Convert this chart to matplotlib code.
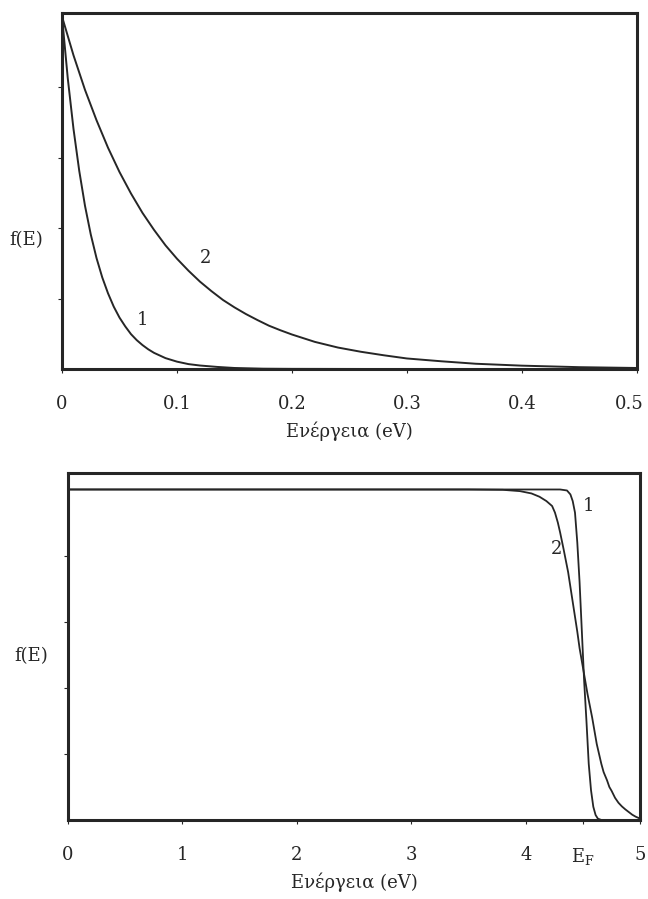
import matplotlib
matplotlib.use("Agg")
import matplotlib.pyplot as plt
from matplotlib.transforms import ScaledTranslation

# Top panel: Maxwell-Boltzmann-like f(E), energy in eV
e_top_1 = [0.0, 0.005, 0.01, 0.015, 0.02, 0.025, 0.03, 0.035, 0.04, 0.045, 0.05,
           0.055, 0.06, 0.065, 0.07, 0.075, 0.08, 0.09, 0.10, 0.11, 0.12, 0.135,
           0.15, 0.175, 0.20, 0.30, 0.40, 0.50]
f_top_1 = [1.0, 0.825, 0.681, 0.562, 0.463, 0.382, 0.315, 0.260, 0.215, 0.177, 0.146,
           0.121, 0.099, 0.082, 0.068, 0.056, 0.046, 0.031, 0.021, 0.014, 0.010, 0.006,
           0.003, 0.001, 0.0005, 0.0, 0.0, 0.0]

e_top_2 = [0.0, 0.01, 0.02, 0.03, 0.04, 0.05, 0.06, 0.07, 0.08, 0.09, 0.10, 0.11,
           0.12, 0.13, 0.14, 0.15, 0.16, 0.17, 0.18, 0.19, 0.20, 0.22, 0.24, 0.26,
           0.28, 0.30, 0.33, 0.36, 0.40, 0.45, 0.50]
f_top_2 = [1.0, 0.890, 0.792, 0.706, 0.628, 0.559, 0.498, 0.443, 0.395, 0.351, 0.313, 0.279,
           0.248, 0.221, 0.196, 0.175, 0.156, 0.139, 0.123, 0.110, 0.098, 0.077, 0.061, 0.049,
           0.039, 0.030, 0.022, 0.015, 0.0096, 0.0053, 0.003]

# Bottom panel: Fermi-Dirac-like f(E) around E_F
e_bot_1 = [0.0, 4.30, 4.36, 4.39, 4.41, 4.43, 4.45, 4.47, 4.49, 4.51, 4.53,
           4.55, 4.57, 4.59, 4.61, 4.63, 4.66, 5.0]
f_bot_1 = [1.0, 1.0, 0.997, 0.985, 0.965, 0.93, 0.84, 0.72, 0.57, 0.42, 0.30,
           0.17, 0.09, 0.04, 0.015, 0.004, 0.0, 0.0]

e_bot_2 = [0.0, 3.5, 3.8, 3.95, 4.05, 4.12, 4.18, 4.23, 4.255, 4.28, 4.30, 4.33, 4.35,
           4.37, 4.39, 4.41, 4.43, 4.45, 4.47, 4.50, 4.52, 4.54, 4.56, 4.58, 4.60,
           4.62, 4.64, 4.66, 4.68, 4.71, 4.73, 4.75, 4.78, 4.81, 4.84, 4.87, 4.90,
           4.93, 4.96, 5.0]
f_bot_2 = [1.0, 1.0, 0.999, 0.995, 0.988, 0.978, 0.965, 0.95, 0.93, 0.90, 0.87, 0.82, 0.785,
           0.75, 0.705, 0.66, 0.615, 0.57, 0.52, 0.46, 0.42, 0.38, 0.345, 0.31, 0.27,
           0.23, 0.20, 0.17, 0.145, 0.12, 0.10, 0.088, 0.067, 0.052, 0.041, 0.032, 0.024,
           0.016, 0.010, 0.004]

top_ticks = [0, 0.1, 0.2, 0.3, 0.4, 0.5]
top_ticklabels = ["0", "0.1", "0.2", "0.3", "0.4", "0.5"]
bot_ticks = [0, 1, 2, 3, 4, 4.5, 5]
bot_ticklabels = ["0", "1", "2", "3", "4", r"E$_{\mathrm{F}}$", "5"]
y_ticks = [0.2, 0.4, 0.6, 0.8]

xlabel = "Ενέργεια (eV)"
ylabel = "f(E)"

plt.rcParams["font.family"] = ["DejaVu Serif"]
plt.rcParams["mathtext.fontset"] = "dejavuserif"
ink = "#262626"

fig = plt.figure(figsize=(6.48, 8.99), dpi=100)
ax1 = fig.add_axes([0.0957, 0.5895, 0.887, 0.396])
ax2 = fig.add_axes([0.105, 0.0879, 0.883, 0.386])


def style(ax):
    for s in ax.spines.values():
        s.set_linewidth(2.2)
        s.set_color(ink)
    ax.set_yticks(y_ticks)
    ax.set_yticklabels([])
    ax.tick_params(direction="out", length=3, width=0.8, colors=ink,
                   labelsize=13, pad=16)


# top panel
ax1.plot(e_top_1, f_top_1, color=ink, lw=1.4)
ax1.plot(e_top_2, f_top_2, color=ink, lw=1.4)
ax1.set_xlim(0, 0.5)
ax1.set_ylim(0, 1.01)
style(ax1)
ax1.set_xticks(top_ticks)
ax1.set_xticklabels(top_ticklabels)
ax1.set_xlabel(xlabel, fontsize=13, labelpad=6, color=ink)
ax1.text(0.07, 0.139, "1", fontsize=13, color=ink, ha="center", va="center")
ax1.text(0.1246, 0.314, "2", fontsize=13, color=ink, ha="center", va="center")
# keep the last tick label inside the canvas
last = ax1.get_xticklabels()[-1]
last.set_transform(last.get_transform() + ScaledTranslation(-8 / 100, 0, fig.dpi_scale_trans))

# bottom panel
ax2.plot(e_bot_1, f_bot_1, color=ink, lw=1.3)
ax2.plot(e_bot_2, f_bot_2, color=ink, lw=1.3)
ax2.set_xlim(0, 5)
ax2.set_ylim(0, 1.05)
style(ax2)
ax2.set_xticks(bot_ticks)
ax2.set_xticklabels(bot_ticklabels)
ax2.set_xlabel(xlabel, fontsize=13, labelpad=4, color=ink)
ax2.text(4.55, 0.95, "1", fontsize=13, color=ink, ha="center", va="center")
ax2.text(4.27, 0.82, "2", fontsize=13, color=ink, ha="center", va="center")

fig.text(0.015, 0.733, ylabel, fontsize=13, color=ink, va="center")
fig.text(0.022, 0.27, ylabel, fontsize=13, color=ink, va="center")

fig.savefig("out.png", dpi=100, facecolor="white")
